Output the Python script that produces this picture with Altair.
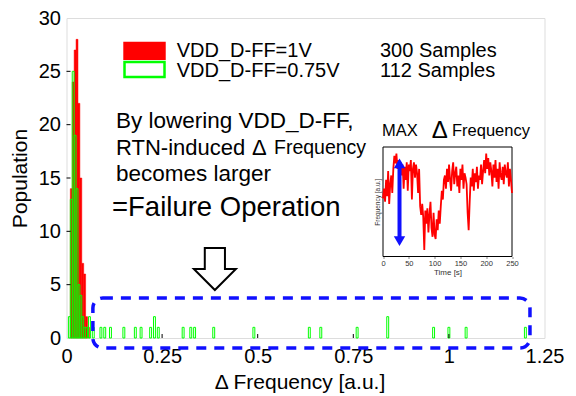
import altair as alt
import pandas as pd

FONT = "Liberation Sans"

# ---------------- histogram data (bin centres, counts) ----------------
bin_width = 0.005
red_centers = [0.0125, 0.0175, 0.0225, 0.0275, 0.0325, 0.0375, 0.0425, 0.0475, 0.0525, 0.0575]
red_counts = [14, 24, 27, 28, 22, 15, 7, 6, 2, 1]

green_centers = [0.0075, 0.0125, 0.0175, 0.0225, 0.0275, 0.0325, 0.0375, 0.0425, 0.0475, 0.0525,
                 0.060, 0.070, 0.090, 0.100, 0.115, 0.150, 0.180, 0.195, 0.220, 0.230,
                 0.240, 0.305, 0.325, 0.335, 0.385, 0.490, 0.635, 0.665, 0.760, 0.840,
                 0.960, 1.000, 1.045, 1.200]
green_counts = [2, 13, 25, 19, 14, 5, 4, 2, 1, 1,
                2, 1, 1, 1, 1, 1, 1, 1, 1, 2,
                1, 1, 1, 1, 1, 1, 1, 1, 1, 2,
                1, 1, 1, 1]

x_ticks = [0, 0.25, 0.5, 0.75, 1, 1.25]
y_ticks = [0, 5, 10, 15, 20, 25, 30]

# ---------------- inset time series ----------------
inset_time = list(range(0, 251, 2))
inset_freq = [0.53, 0.62, 0.50, 0.70, 0.55, 0.78, 0.48, 0.66, 0.74, 0.58, 0.80,
              0.92, 0.85, 0.94, 0.80, 0.88, 0.76, 0.86, 0.74, 0.84, 0.62,
              0.82, 0.70, 0.86, 0.60, 0.84, 0.78, 0.88, 0.52, 0.80, 0.86, 0.72, 0.84, 0.76, 0.58, 0.80,
              0.46, 0.38, 0.48, 0.36, 0.06, 0.42,
              0.30, 0.44, 0.22, 0.38, 0.50, 0.26, 0.18, 0.40, 0.20, 0.16, 0.34, 0.24, 0.42, 0.30, 0.46,
              0.60, 0.52, 0.70,
              0.74, 0.62, 0.80, 0.68, 0.84, 0.70, 0.60, 0.78, 0.86, 0.66, 0.76, 0.82, 0.64, 0.74, 0.58,
              0.80, 0.70, 0.84, 0.62, 0.76, 0.72, 0.66,
              0.40, 0.24, 0.50,
              0.72, 0.64, 0.80, 0.60, 0.76, 0.68, 0.82, 0.62, 0.74, 0.70, 0.84, 0.66, 0.78,
              0.88, 0.76, 0.94, 0.80, 0.90, 0.74, 0.86,
              0.78, 0.64, 0.84, 0.72, 0.88, 0.68, 0.80, 0.62, 0.86, 0.74, 0.70, 0.82, 0.66, 0.84,
              0.76, 0.72, 0.86, 0.64, 0.80, 0.70, 0.58]
inset_ticks = [0, 50, 100, 150, 200, 250]
arrow_time = 32
arrow_lo = 0.14
arrow_hi = 0.85

# ---------------- annotation texts ----------------
legend_labels = ["VDD_D-FF=1V", "VDD_D-FF=0.75V"]
legend_samples = ["300 Samples", "112 Samples"]
note_line1 = "By lowering VDD_D-FF,"
note_line2_parts = ["RTN-induced", "Δ", "Frequency"]
note_line3 = "becomes larger"
failure_text = "=Failure Operation"
inset_title_parts = ["MAX", "Δ", "Frequency"]

# ---------------- scales ----------------
xs = alt.Scale(domain=[0, 1.25], nice=False, zero=False)
ys = alt.Scale(domain=[0, 30], nice=False, zero=False)
ixs = alt.Scale(domain=[0, 250], nice=False, zero=False, range=[316.5, 445.5])
iys = alt.Scale(domain=[0, 1], nice=False, zero=False, range=[238.5, 129])

x_axis = alt.Axis(values=x_ticks, format=".3~g", title="Δ Frequency [a.u.]", labelFontSize=20,
                  titleFontSize=21, titleFontWeight="normal", ticks=False, domain=False, grid=False,
                  labelPadding=8, titlePadding=5, labelFlush=False, titleX=233)
y_axis = alt.Axis(values=y_ticks, format="~g", title="Population", labelFontSize=20,
                  titleFontSize=21, titleFontWeight="normal", ticks=False, domain=False, grid=False,
                  labelPadding=6, titlePadding=8)

red_df = pd.DataFrame({"c": red_centers, "n": red_counts})
green_df = pd.DataFrame({"c": green_centers, "n": green_counts})

def hist_layer(df, **mark):
    return alt.Chart(df).transform_calculate(
        x=f"datum.c - {bin_width / 2}", x2=f"datum.c + {bin_width / 2}", y="datum.n", y2="0"
    ).mark_rect(**mark).encode(
        x=alt.X("x:Q", scale=xs, axis=x_axis), x2="x2:Q",
        y=alt.Y("y:Q", scale=ys, axis=y_axis), y2="y2:Q",
    )

red_layer = hist_layer(red_df, fill="#ff0000", stroke="#ff0000", strokeWidth=0.5)
green_layer = hist_layer(green_df, fill="#00ff00", fillOpacity=0, stroke="#00ff00", strokeWidth=1)

# inward ticks
xt = alt.Chart(pd.DataFrame({"x": x_ticks[1:-1]})).mark_rule(color="black", strokeWidth=1).encode(
    x=alt.X("x:Q", scale=xs), y=alt.value(320), y2=alt.value(316))
yt = alt.Chart(pd.DataFrame({"y": y_ticks[1:-1]})).mark_rule(color="black", strokeWidth=1).encode(
    y=alt.Y("y:Q", scale=ys), x=alt.value(0), x2=alt.value(4))

# dashed rounded box around the tail
box_df = pd.DataFrame({"x": [0.069], "x2": [1.212], "y": [-0.94], "y2": [3.75]})
box = alt.Chart(box_df).mark_rect(fill=None, fillOpacity=0, stroke="#1010ff", strokeWidth=3.5,
                                  strokeDash=[10, 8], cornerRadius=10).encode(
    x=alt.X("x:Q", scale=xs), x2="x2:Q", y=alt.Y("y:Q", scale=ys), y2="y2:Q")

# hollow down arrow
arrow_path = "M -0.48 -1 L 0.48 -1 L 0.48 0 L 1 0 L 0 1 L -1 0 L -0.48 0 Z"
arrow = alt.Chart(pd.DataFrame({"x": [0.388], "y": [6.47]})).mark_point(
    shape=arrow_path, size=1764, filled=True, fill="white", stroke="black", strokeWidth=2, opacity=1
).encode(x=alt.X("x:Q", scale=xs), y=alt.Y("y:Q", scale=ys))

# legend swatches
sw_red = alt.Chart(pd.DataFrame({"x": [0.1485], "x2": [0.2595], "y": [26.06], "y2": [27.78]})).mark_rect(
    fill="#ff0000").encode(x=alt.X("x:Q", scale=xs), x2="x2:Q", y=alt.Y("y:Q", scale=ys), y2="y2:Q")
sw_green = alt.Chart(pd.DataFrame({"x": [0.1517], "x2": [0.2563], "y": [24.47], "y2": [25.87]})).mark_rect(
    fill="white", stroke="#00ff00", strokeWidth=2.5).encode(
    x=alt.X("x:Q", scale=xs), x2="x2:Q", y=alt.Y("y:Q", scale=ys), y2="y2:Q")

def text_layer(xs_vals, ys_vals, texts, size):
    df = pd.DataFrame({"x": xs_vals, "y": ys_vals, "t": texts})
    return alt.Chart(df).mark_text(align="left", baseline="middle", font=FONT, fontSize=size,
                                   color="black").encode(
        x=alt.X("x:Q", scale=xs), y=alt.Y("y:Q", scale=ys), text="t:N")

t_leg = text_layer([0.2882, 0.2882], [26.95, 25.05], legend_labels, 20)
t_smp = text_layer([0.8198, 0.8198], [26.95, 25.05], legend_samples, 20)
t_note1 = text_layer([0.1294], [20.34], [note_line1], 22.5)
t_note2a = text_layer([0.1294], [17.81], [note_line2_parts[0]], 22)
t_note2b = text_layer([0.485], [17.81], [note_line2_parts[1]], 22)
t_note2c = text_layer([0.5426], [17.81], [note_line2_parts[2]], 19.5)
t_note3 = text_layer([0.1294], [15.37], [note_line3], 22.5)
t_fail = text_layer([0.119], [12.19], [failure_text], 27.5)
t_max = text_layer([0.825], [19.41], [inset_title_parts[0]], 16.5)
t_delta = text_layer([0.955], [19.41], [inset_title_parts[1]], 24)
t_freq = text_layer([1.008], [19.41], [inset_title_parts[2]], 16.5)

main = alt.layer(red_layer, green_layer, xt, yt, box, arrow, sw_red, sw_green,
                 t_leg, t_smp, t_note1, t_note2a, t_note2b, t_note2c, t_note3, t_fail,
                 t_max, t_delta, t_freq)

# ---------------- inset ----------------
ix_axis = alt.Axis(orient="bottom", offset=-81.5, values=inset_ticks, title="Time [s]",
                   labelFontSize=7.5, titleFontSize=8, titleFontWeight="normal", tickSize=2,
                   domain=False, grid=False, labelPadding=1, titlePadding=1,
                   labelColor="#333333", titleColor="#333333", labelFlush=False)
iy_axis = alt.Axis(orient="left", offset=-316.5, labels=False, ticks=False, domain=False, grid=False,
                   title="Frequency [a.u.]", titleFontSize=6.5, titleFontWeight="normal",
                   titlePadding=3, titleColor="#333333")

frame = alt.Chart(pd.DataFrame({"t": [0], "t2": [250], "v": [0], "v2": [1]})).mark_rect(
    fill="white", stroke="black", strokeWidth=1).encode(
    x=alt.X("t:Q", scale=ixs, axis=ix_axis), x2="t2:Q",
    y=alt.Y("v:Q", scale=iys, axis=iy_axis), y2="v2:Q")

series = alt.Chart(pd.DataFrame({"t": inset_time, "v": inset_freq})).mark_line(
    color="#ff0000", strokeWidth=1.8, clip=False).encode(
    x=alt.X("t:Q", scale=ixs), y=alt.Y("v:Q", scale=iys))

shaft = alt.Chart(pd.DataFrame({"t": [arrow_time], "v": [arrow_lo], "v2": [arrow_hi]})).mark_rule(
    color="#1010ff", strokeWidth=4).encode(
    x=alt.X("t:Q", scale=ixs), y=alt.Y("v:Q", scale=iys), y2="v2:Q")
head_up = alt.Chart(pd.DataFrame({"t": [arrow_time], "v": [arrow_hi]})).mark_point(
    shape="triangle-up", size=130, filled=True, color="#1010ff", opacity=1).encode(
    x=alt.X("t:Q", scale=ixs), y=alt.Y("v:Q", scale=iys))
head_dn = alt.Chart(pd.DataFrame({"t": [arrow_time], "v": [arrow_lo]})).mark_point(
    shape="triangle-down", size=130, filled=True, color="#1010ff", opacity=1).encode(
    x=alt.X("t:Q", scale=ixs), y=alt.Y("v:Q", scale=iys))

inset = alt.layer(frame, series, shaft, head_up, head_dn)

chart = alt.layer(main, inset).resolve_scale(x="independent", y="independent").properties(
    width=478, height=320, autosize="none",
    padding={"left": 66.5, "top": 18, "right": 31.5, "bottom": 58},
).configure_view(stroke="black", strokeWidth=1.2).configure_axis(
    labelFont=FONT, titleFont=FONT, labelColor="black", titleColor="black", titleFontWeight="normal"
).configure(background="white")

chart.save("out.html", embed_options={"renderer": "svg", "actions": False})
